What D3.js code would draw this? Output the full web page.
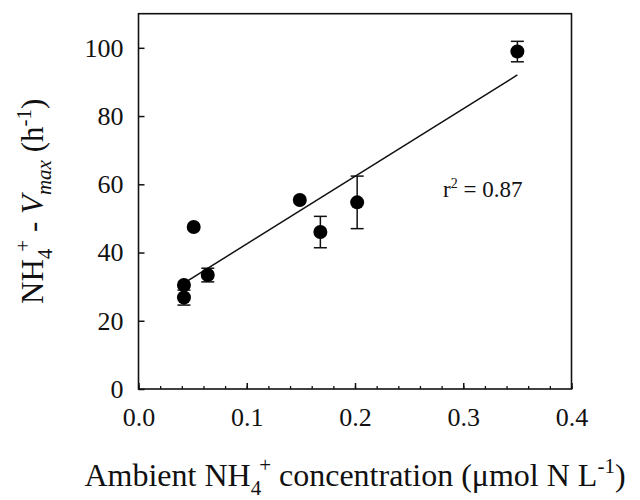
<!DOCTYPE html>
<html>
<head>
<meta charset="utf-8">
<script src="https://cdn.jsdelivr.net/npm/d3@7"></script>
<style>
  body { margin: 0; background: #fff; }
  svg { display: block; }
  text { font-family: "Liberation Serif", "Times New Roman", serif; fill: #111; }
</style>
</head>
<body>
<svg id="chart" width="640" height="500"></svg>
<script>
// ambient NH4+ (umol N / L) vs NH4+ Vmax (per hour)
var ambient = [0.042, 0.042, 0.051, 0.064, 0.149, 0.168, 0.202, 0.350];
var vmax    = [30.5, 26.8, 47.5, 33.4, 55.4, 46.0, 54.7, 98.9];
var errs    = [0, 2.2, 0, 2.0, 0, 4.6, 7.7, 3.0];

var xMajor = [0, 0.1, 0.2, 0.3, 0.4];
var xMinor = d3.range(0, 0.401, 0.02);
var yMajor = [0, 20, 40, 60, 80, 100];
var rLabel = "0.87";

var width = 640, height = 500;
var margin = {top: 13.7, right: 68.5, bottom: 111, left: 138.5};

var svg = d3.select('#chart');

var x = d3.scaleLinear().domain([0, 0.4]).range([margin.left, width - margin.right]);
var y = d3.scaleLinear().domain([0, 110]).range([height - margin.bottom, margin.top]);

var nodes = ambient.map(function(d, i) {
    return {x: d, y: vmax[i], e: errs[i]};
});

//least squares line through the points
var mx = d3.mean(ambient), my = d3.mean(vmax);
var sxy = d3.sum(nodes, function(d) { return (d.x - mx) * (d.y - my); });
var sxx = d3.sum(nodes, function(d) { return (d.x - mx) * (d.x - mx); });
var slope = sxy / sxx, icpt = my - slope * mx;

// minor x ticks
svg.append('g')
    .attr('transform', 'translate(0,' + y(0) + ')')
    .call(d3.axisBottom(x).tickValues(xMinor).tickSize(-3).tickFormat(''))
    .call(function(g) { g.select('.domain').remove(); })
    .selectAll('line').attr('stroke', '#111').attr('stroke-width', 1.3);

// major x ticks + labels
var gx = svg.append('g')
    .attr('transform', 'translate(0,' + y(0) + ')')
    .call(d3.axisBottom(x).tickValues(xMajor).tickSize(-6).tickPadding(19).tickFormat(d3.format('.1f')));
gx.select('.domain').remove();
gx.selectAll('line').attr('stroke', '#111').attr('stroke-width', 1.5);
gx.selectAll('text').attr('font-size', 26).attr('font-family', '"Liberation Serif", serif').attr('fill', '#111');

var gy = svg.append('g')
    .attr('transform', 'translate(' + x(0) + ',0)')
    .call(d3.axisLeft(y).tickValues(yMajor).tickSize(-6).tickPadding(15).tickFormat(d3.format('d')));
gy.select('.domain').remove();
gy.selectAll('line').attr('stroke', '#111').attr('stroke-width', 1.5);
gy.selectAll('text').attr('font-size', 26).attr('font-family', '"Liberation Serif", serif').attr('fill', '#111');

// frame
svg.append('rect')
    .attr('x', x(0)).attr('y', y(110))
    .attr('width', x(0.4) - x(0)).attr('height', y(0) - y(110))
    .attr('fill', 'none').attr('stroke', '#111').attr('stroke-width', 1.6);

// regression line
var x0 = d3.min(ambient), x1 = d3.max(ambient);
svg.append('line')
    .attr('x1', x(x0)).attr('y1', y(icpt + slope * x0))
    .attr('x2', x(x1)).attr('y2', y(icpt + slope * x1))
    .attr('stroke', '#111').attr('stroke-width', 1.5);

// error bars
var eb = svg.selectAll('g.err')
    .data(nodes.filter(function(d) { return d.e > 0; }))
    .join('g').attr('class', 'err')
    .attr('stroke', '#111').attr('stroke-width', 1.5);
eb.append('line')
    .attr('x1', function(d) { return x(d.x); }).attr('x2', function(d) { return x(d.x); })
    .attr('y1', function(d) { return y(d.y - d.e); }).attr('y2', function(d) { return y(d.y + d.e); });
eb.append('line')
    .attr('x1', function(d) { return x(d.x) - 6.5; }).attr('x2', function(d) { return x(d.x) + 6.5; })
    .attr('y1', function(d) { return y(d.y + d.e); }).attr('y2', function(d) { return y(d.y + d.e); });
eb.append('line')
    .attr('x1', function(d) { return x(d.x) - 6.5; }).attr('x2', function(d) { return x(d.x) + 6.5; })
    .attr('y1', function(d) { return y(d.y - d.e); }).attr('y2', function(d) { return y(d.y - d.e); });

svg.selectAll('circle')
    .data(nodes)
    .join('circle')
    .attr('r', 7)
    .attr('cx', function(d) { return x(d.x); })
    .attr('cy', function(d) { return y(d.y); })
    .style('fill', '#000');

// r squared
var rt = svg.append('text').attr('x', 443).attr('y', 197).attr('font-size', 23);
rt.append('tspan').text('r');
rt.append('tspan').attr('dy', -9).attr('font-size', 14).text('2');
rt.append('tspan').attr('dy', 9).text(' = ' + rLabel);

// x title
var xt = svg.append('text')
    .attr('x', (x(0) + x(0.4)) / 2).attr('y', 486)
    .attr('text-anchor', 'middle').attr('font-size', 32);
xt.append('tspan').text('Ambient NH');
xt.append('tspan').attr('dy', 9).attr('font-size', 21).text('4');
xt.append('tspan').attr('dy', -23).attr('dx', -2).attr('font-size', 21).text('+');
xt.append('tspan').attr('dy', 14).text(' concentration (\u03bcmol N L');
xt.append('tspan').attr('dy', -13).attr('font-size', 21).text('-1');
xt.append('tspan').attr('dy', 13).text(')');

// y title
var yt = svg.append('text')
    .attr('transform', 'translate(43,' + ((y(0) + y(110)) / 2) + ') rotate(-90)')
    .attr('text-anchor', 'middle').attr('font-size', 31);
yt.append('tspan').text('NH');
yt.append('tspan').attr('dy', 9).attr('font-size', 21).text('4');
yt.append('tspan').attr('dy', -22).attr('dx', -3).attr('font-size', 21).text('+');
yt.append('tspan').attr('dy', 13).text(' - ');
yt.append('tspan').attr('font-style', 'italic').text('V');
yt.append('tspan').attr('dy', 8).attr('font-size', 21).attr('font-style', 'italic').text('max');
yt.append('tspan').attr('dy', -8).text(' (h');
yt.append('tspan').attr('dy', -12).attr('font-size', 21).text('-1');
yt.append('tspan').attr('dy', 12).text(')');
</script>
</body>
</html>
